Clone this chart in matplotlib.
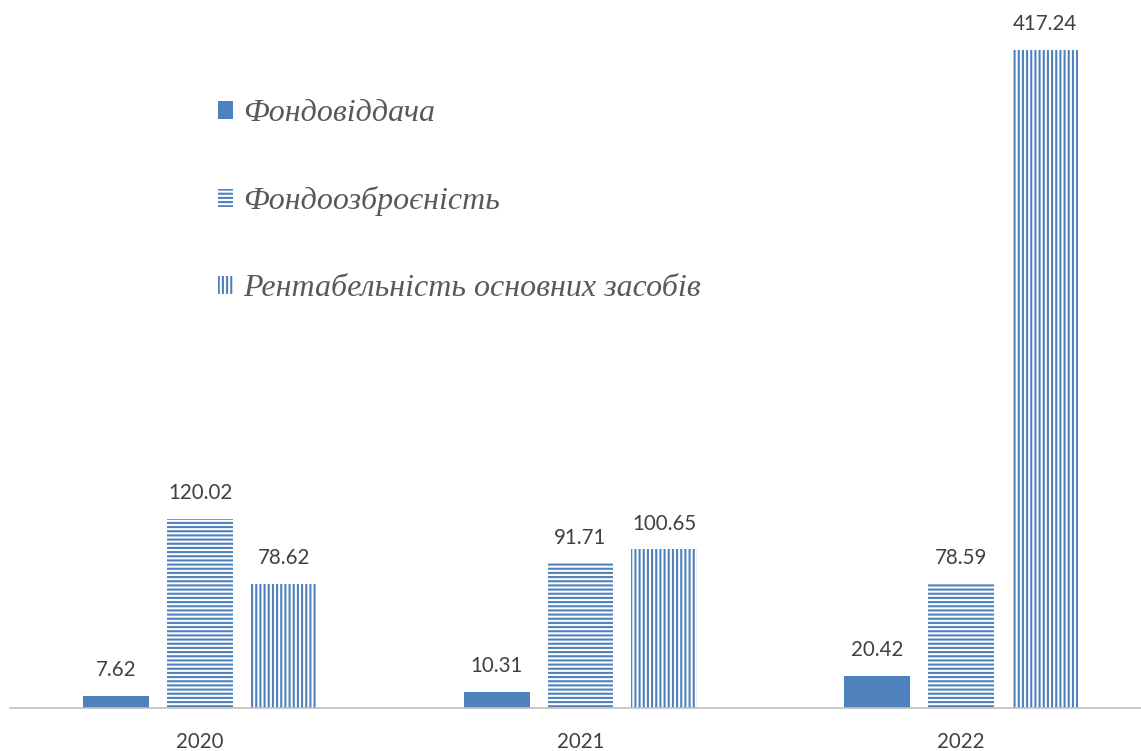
import matplotlib.pyplot as plt
import numpy as np

# Chart data
years = ["2020", "2021", "2022"]
fondoviddacha = [7.62, 10.31, 20.42]
fondoozbroyenist = [120.02, 91.71, 78.59]
rentabelnist = [78.62, 100.65, 417.24]
series_names = ["Фондовіддача", "Фондоозброєність", "Рентабельність основних засобів"]

blue = "#4F81BD"
grey = "#595959"
label_grey = "#404040"

plt.rcParams["hatch.linewidth"] = 1.5

fig = plt.figure(figsize=(11.41, 7.51), dpi=100)
# axes spans the category band; axis line sits at y=708 px
ax = fig.add_axes([10 / 1141, 43 / 751, 1141 / 1141, 708 / 751])

x = np.arange(len(years))
w = 0.1735
off = 0.22

b1 = ax.bar(x - off, fondoviddacha, w, color=blue, label=series_names[0])
b2 = ax.bar(x, fondoozbroyenist, w, color="white", edgecolor=blue, hatch="----",
            linewidth=0, label=series_names[1])
b3 = ax.bar(x + off, rentabelnist, w, color="white", edgecolor=blue, hatch="||||",
            linewidth=0, label=series_names[2])

for bars, vals in [(b1, fondoviddacha), (b2, fondoozbroyenist), (b3, rentabelnist)]:
    for rect, v in zip(bars, vals):
        ax.annotate(f"{v:.2f}", (rect.get_x() + rect.get_width() / 2, v),
                    xytext=(0, 18.5), textcoords="offset points",
                    ha="center", va="center", fontsize=14.8, family="Lato",
                    color=label_grey)

ax.set_xlim(-0.5, 2.5)
ax.set_ylim(0, 449)
ax.set_xticks(x)
ax.set_xticklabels(years, fontsize=14.8, family="Lato", color=label_grey)
ax.tick_params(axis="x", length=0, pad=17)
ax.set_yticks([])
for side in ["top", "right", "left"]:
    ax.spines[side].set_visible(False)
ax.spines["bottom"].set_color("#BFBFBF")
ax.spines["bottom"].set_linewidth(1.2)

leg = fig.legend(handles=[b1, b2, b3], loc="upper left",
                 bbox_to_anchor=(218 / 1141, 1 - 99 / 751),
                 frameon=False, borderpad=0, borderaxespad=0,
                 handlelength=0.48, handleheight=0.48, handletextpad=0.3,
                 labelspacing=1.82,
                 prop={"family": "Liberation Serif", "style": "italic", "size": 23})
for t in leg.get_texts():
    t.set_color(grey)

fig.savefig("out.png", dpi=100)
